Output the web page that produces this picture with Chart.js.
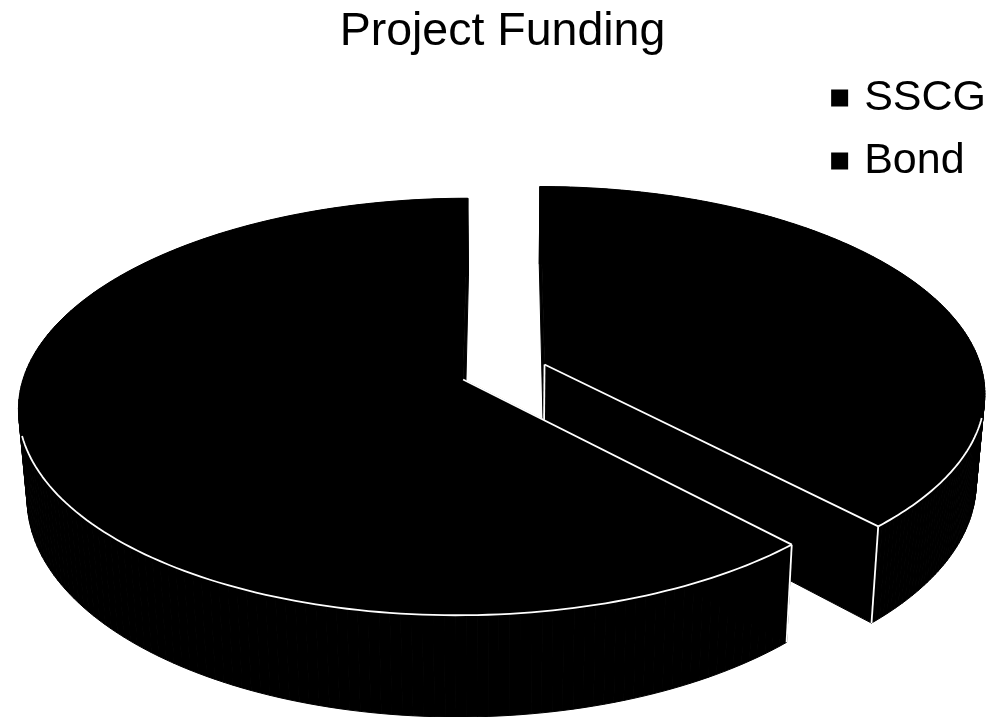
<!DOCTYPE html>
<html>
<head>
<meta charset="utf-8">
<title>Project Funding</title>
<script src="https://cdn.jsdelivr.net/npm/chart.js@4"></script>
<style>
  html, body { margin: 0; padding: 0; background: #fff; }
  canvas { display: block; }
</style>
</head>
<body>
<canvas id="funding-canvas" width="1001" height="717"></canvas>
<script>
const categories = ['SSCG', 'Bond'];
const fundingShare = [38, 62];

// look of the tilted disc, the library has no 3D pie
const view = { cx: 504, cy: 372, rx: 438, ry: 203, tilt: 0.13, depth: 88, shrink: 0.982, explode: 0.1, rimFrom: 0.25 };

function project(a, mid, onBottom) {
  const u = Math.cos(a) + Math.cos(mid) * view.explode;
  const v = Math.sin(a) + Math.sin(mid) * view.explode;
  return projectUV(u, v, onBottom);
}

function projectUV(u, v, onBottom) {
  const w = 1 - view.tilt * v;
  let x = view.cx + view.rx * u / w;
  let y = view.cy + view.ry * v / w;
  if (onBottom) {
    x = view.cx + (x - view.cx) * view.shrink;
    y += view.depth / w;
  }
  return { x, y };
}

function line(ctx, p, q) {
  ctx.beginPath();
  ctx.moveTo(p.x, p.y);
  ctx.lineTo(q.x, q.y);
  ctx.stroke();
}

function drawSlice(ctx, arc) {
  const start = arc.startAngle;
  const end = arc.endAngle;
  const mid = (start + end) / 2;
  const apexU = Math.cos(mid) * view.explode;
  const apexV = Math.sin(mid) * view.explode;

  // outline of the slice, apex first
  const angles = [];
  const steps = 180;
  for (let i = 0; i <= steps; i++) angles.push(start + (end - start) * i / steps);
  const top = [projectUV(apexU, apexV, false)].concat(angles.map(a => project(a, mid, false)));
  const bottom = [projectUV(apexU, apexV, true)].concat(angles.map(a => project(a, mid, true)));

  ctx.fillStyle = arc.options.backgroundColor;
  ctx.strokeStyle = arc.options.backgroundColor;
  ctx.lineWidth = 1;

  // side wall
  for (let i = 0; i < top.length; i++) {
    const j = (i + 1) % top.length;
    ctx.beginPath();
    ctx.moveTo(top[i].x, top[i].y);
    ctx.lineTo(top[j].x, top[j].y);
    ctx.lineTo(bottom[j].x, bottom[j].y);
    ctx.lineTo(bottom[i].x, bottom[i].y);
    ctx.closePath();
    ctx.fill();
    ctx.stroke();
  }

  // top face
  ctx.beginPath();
  top.forEach((p, i) => i ? ctx.lineTo(p.x, p.y) : ctx.moveTo(p.x, p.y));
  ctx.closePath();
  ctx.fill();

  // white edges on the front of the slice
  ctx.strokeStyle = '#fff';
  ctx.lineWidth = 1.8;
  ctx.beginPath();
  let open = false;
  angles.forEach(a => {
    if (Math.sin(a) < view.rimFrom) { open = false; return; }
    const p = project(a, mid, false);
    if (open) ctx.lineTo(p.x, p.y); else ctx.moveTo(p.x, p.y);
    open = true;
  });
  ctx.stroke();

  // the cut that faces the viewer, and its corner
  const frontIsEnd = Math.sin(end) > Math.sin(start);
  const corner = frontIsEnd ? top.length - 1 : 1;
  line(ctx, top[0], top[corner]);
  line(ctx, top[corner], bottom[corner]);
  if (frontIsEnd) line(ctx, top[0], bottom[0]);
}

const tiltedPie = {
  id: 'tiltedPie',
  beforeDatasetDraw(chart, args) {
    const ctx = chart.ctx;
    ctx.save();
    ctx.lineJoin = 'round';
    args.meta.data.forEach(arc => drawSlice(ctx, arc));
    ctx.restore();
    return false;
  }
};

new Chart(document.getElementById('funding-canvas').getContext('2d'), {
  type: 'pie',
  data: {
    labels: categories,
    datasets: [{
      data: fundingShare,
      backgroundColor: '#000',
      borderColor: '#000',
      borderWidth: 11
    }]
  },
  options: {
    responsive: false,
    animation: false,
    layout: { padding: { top: 9, left: 9, right: 5 } },
    plugins: {
      title: {
        display: true,
        text: 'Project Funding',
        color: '#000',
        font: { family: 'Liberation Sans', size: 46.5, weight: 'normal', lineHeight: 1 },
        padding: { top: 0, bottom: 1 }
      },
      legend: {
        position: 'right',
        align: 'start',
        fullSize: false,
        labels: {
          color: '#000',
          boxWidth: 6,
          boxHeight: 6,
          padding: 20,
          font: { family: 'Liberation Sans', size: 43 }
        }
      },
      tooltip: { enabled: false }
    }
  },
  plugins: [tiltedPie]
});
</script>
</body>
</html>
